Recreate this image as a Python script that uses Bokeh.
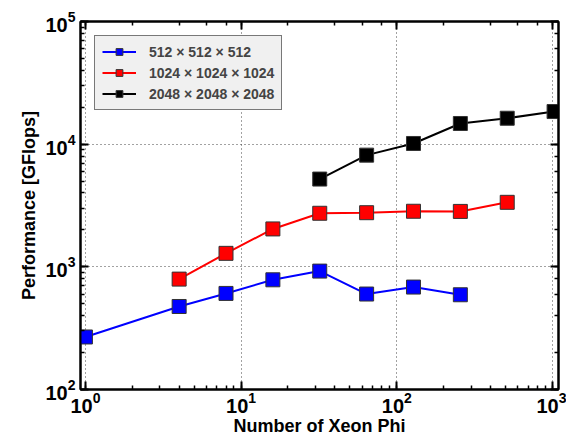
from bokeh.plotting import figure
from bokeh.models import LogAxis, Legend, LegendItem, Range1d
from bokeh.embed import file_html
from bokeh.resources import INLINE

nodes_512 = [1, 4, 8, 16, 32, 64, 128, 256]
perf_512 = [268, 475, 607, 784, 923, 600, 684, 592]
nodes_1024 = [4, 8, 16, 32, 64, 128, 256, 512]
perf_1024 = [794, 1288, 2037, 2733, 2763, 2838, 2830, 3357]
nodes_2048 = [32, 64, 128, 256, 512, 1024]
perf_2048 = [5194, 8140, 10130, 14740, 16270, 18450]
labels = ["512 \u00d7 512 \u00d7 512", "1024 \u00d7 1024 \u00d7 1024", "2048 \u00d7 2048 \u00d7 2048"]
colors = ["#0000ff", "#ff0000", "#000000"]

FONT = "Liberation Sans"

p = figure(width=566, height=438, x_axis_type="log", y_axis_type="log",
           x_range=Range1d(0.93, 1093), y_range=Range1d(100, 1e5),
           output_backend="svg", toolbar_location=None,
           min_border_left=80, min_border_top=21, min_border_right=8, min_border_bottom=48)

p.outline_line_color = "black"
p.outline_line_width = 2
p.background_fill_color = "white"

renderers = []
for xs, ys, c in [(nodes_512, perf_512, colors[0]), (nodes_1024, perf_1024, colors[1]), (nodes_2048, perf_2048, colors[2])]:
    l = p.line(xs, ys, line_color=c, line_width=2)
    s = p.scatter(xs, ys, marker="square", size=14, fill_color=c, line_color="#333333", line_width=1)
    renderers.append([l, s])

def style_axis(ax, labels_on=True):
    ax.axis_line_color = "black"
    ax.axis_line_width = 2
    ax.major_tick_in = 8
    ax.major_tick_out = 0
    ax.minor_tick_in = 4
    ax.minor_tick_out = 0
    ax.major_tick_line_width = 2
    ax.minor_tick_line_width = 1.5
    ax.major_label_text_font = FONT
    ax.major_label_text_font_style = "bold"
    ax.major_label_text_font_size = "20px"
    ax.major_label_text_color = "black"
    ax.axis_label_text_font = FONT
    ax.axis_label_text_font_style = "bold"
    ax.axis_label_text_font_size = "18px"
    ax.axis_label_text_color = "black"
    if not labels_on:
        ax.major_label_text_font_size = "0px"
        ax.major_label_text_alpha = 0

style_axis(p.xaxis[0])
style_axis(p.yaxis[0])
p.xaxis[0].axis_label = "Number of Xeon Phi"
p.yaxis[0].axis_label = "Performance [GFlops]"
p.xaxis[0].axis_label_standoff = 0
p.yaxis[0].axis_label_standoff = 3
p.xaxis[0].major_label_standoff = 2
p.yaxis[0].major_label_standoff = 5

top = LogAxis()
right = LogAxis()
style_axis(top, False)
style_axis(right, False)
p.add_layout(top, "above")
p.add_layout(right, "right")

for g in [p.xgrid[0], p.ygrid[0]]:
    g.grid_line_color = "#444444"
    g.grid_line_dash = "1 3"
    g.grid_line_width = 1

items = [LegendItem(label=labels[i], renderers=renderers[i]) for i in range(3)]
leg = Legend(items=items, location="top_left")
leg.label_text_font = FONT
leg.label_text_font_style = "bold"
leg.label_text_font_size = "14px"
leg.background_fill_color = "#f0f0f0"
leg.background_fill_alpha = 1
leg.border_line_color = "black"
leg.border_line_width = 1
leg.glyph_width = 34
leg.glyph_height = 17
leg.spacing = 4
leg.padding = 7
leg.margin = 14
leg.label_standoff = 13
p.add_layout(leg)

open("out.html", "w").write(file_html(p, INLINE))
